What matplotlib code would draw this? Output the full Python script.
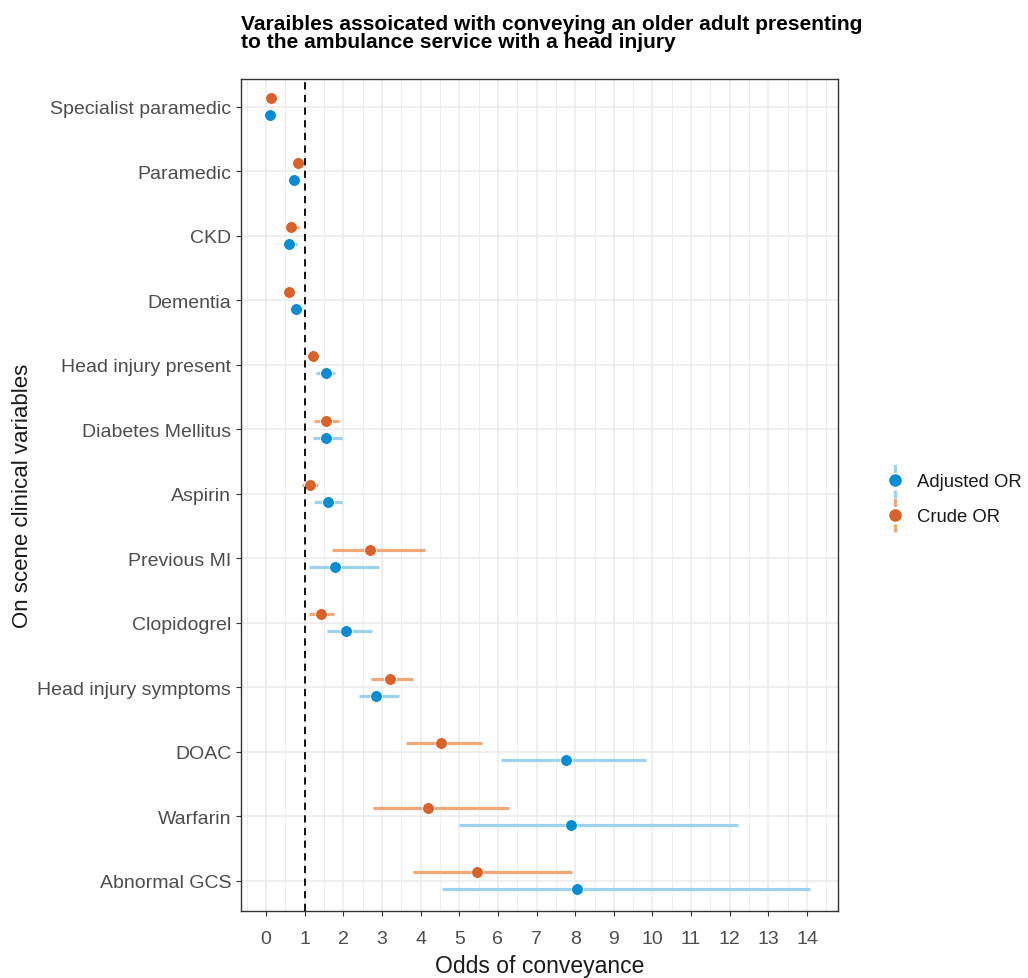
import matplotlib
matplotlib.use("Agg")
import matplotlib.pyplot as plt
import numpy as np
from matplotlib.legend_handler import HandlerBase
from matplotlib.lines import Line2D

plt.rcParams['font.family'] = ['Liberation Sans', 'DejaVu Sans']

# variables, bottom to top
variables = ["Abnormal GCS", "Warfarin", "DOAC", "Head injury symptoms", "Clopidogrel",
             "Previous MI", "Aspirin", "Diabetes Mellitus", "Head injury present",
             "Dementia", "CKD", "Paramedic", "Specialist paramedic"]

adj_or = [8.04, 7.88, 7.75, 2.85, 2.07, 1.79, 1.59, 1.55, 1.55, 0.78, 0.60, 0.73, 0.11]
adj_lo = [4.56, 5.00, 6.07, 2.40, 1.58, 1.10, 1.25, 1.21, 1.29, 0.70, 0.45, 0.66, 0.06]
adj_hi = [14.07, 12.21, 9.83, 3.44, 2.75, 2.91, 1.97, 1.97, 1.79, 0.88, 0.80, 0.82, 0.18]

crude_or = [5.47, 4.20, 4.53, 3.22, 1.42, 2.69, 1.14, 1.55, 1.22, 0.60, 0.65, 0.82, 0.12]
crude_lo = [3.79, 2.77, 3.63, 2.71, 1.10, 1.70, 0.92, 1.24, 1.10, 0.52, 0.55, 0.76, 0.08]
crude_hi = [7.93, 6.29, 5.60, 3.80, 1.77, 4.12, 1.35, 1.89, 1.35, 0.70, 0.85, 0.90, 0.17]

blue, blue_ci = "#0A8CD2", "#9CD2EC"
orange, orange_ci = "#D9622B", "#F2A779"

fig = plt.figure(figsize=(10.28, 9.79), dpi=100)
ax = fig.add_axes([0.2344, 0.0684, 0.5807, 0.8499])

y = np.arange(1, len(variables) + 1)
dodge = 0.13

ax.hlines(y - dodge, adj_lo, adj_hi, color=blue_ci, lw=2.3, zorder=3)
ax.hlines(y + dodge, crude_lo, crude_hi, color=orange_ci, lw=2.3, zorder=3)
ax.plot(adj_or, y - dodge, 'o', color=blue, ms=8.5, mec='white', mew=0.6, zorder=4)
ax.plot(crude_or, y + dodge, 'o', color=orange, ms=8.5, mec='white', mew=0.6, zorder=4)

ax.axvline(1, color='black', ls=(0, (4, 3)), lw=1.3, zorder=5)

ax.set_xlim(-0.65, 14.8)
ax.set_ylim(0.53, 13.43)
ax.set_xticks(np.arange(0, 15))
ax.set_xticks(np.arange(-0.5, 15, 0.5), minor=True)
ax.set_yticks(y)
ax.set_yticklabels(variables)
ax.grid(which='major', color='#EBEBEB', lw=1.1, zorder=0)
ax.grid(which='minor', axis='x', color='#EBEBEB', lw=0.6, zorder=0)
ax.set_axisbelow(True)
ax.tick_params(which='minor', length=0)
ax.tick_params(which='major', length=3.5, color='#333333', labelsize=14,
               labelcolor='#4D4D4D', width=0.8)
ax.tick_params(axis='x', which='major', pad=10)
for s in ax.spines.values():
    s.set_color('#333333')
    s.set_linewidth(1.0)

ax.set_xlabel("Odds of conveyance", fontsize=16.5, color='#1A1A1A', labelpad=5)
ax.set_ylabel("On scene clinical variables", fontsize=16, color='#1A1A1A', labelpad=3)

fig.text(0.2344, 0.947, "Varaibles assoicated with conveying an older adult presenting\n"
         "to the ambulance service with a head injury",
         fontsize=15.1, fontweight='bold', ha='left', va='bottom', linespacing=0.95)


class PointRangeKey(HandlerBase):
    def __init__(self, ci_color, pt_color):
        super().__init__()
        self.ci_color = ci_color
        self.pt_color = pt_color

    def create_artists(self, legend, orig_handle, xdescent, ydescent, width,
                       height, fontsize, trans):
        cx = width / 2 - xdescent
        line = Line2D([cx, cx], [-ydescent - 8, height - ydescent + 8],
                      color=self.ci_color, lw=2.3, ls=(0, (2.5, 1.5)), transform=trans)
        pt = Line2D([cx], [height / 2 - ydescent], marker='o', color=self.pt_color,
                    ms=8, transform=trans)
        return [line, pt]


h_adj = Line2D([], [])
h_crude = Line2D([], [])
fig.legend([h_adj, h_crude], ["Adjusted OR", "Crude OR"],
           handler_map={h_adj: PointRangeKey(blue_ci, blue),
                        h_crude: PointRangeKey(orange_ci, orange)},
           loc='center left', bbox_to_anchor=(0.846, 0.489), frameon=False,
           fontsize=13.3, handlelength=0.9, handletextpad=0.75, labelspacing=0.95,
           labelcolor='#1A1A1A')

fig.savefig("out.png", dpi=100, facecolor='white')
